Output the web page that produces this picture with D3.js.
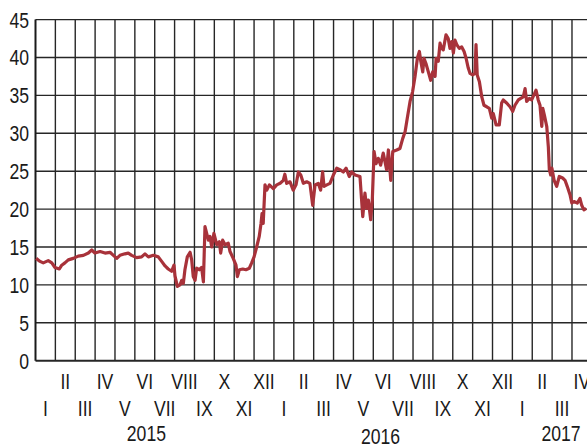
<!DOCTYPE html>
<html>
<head>
<meta charset="utf-8">
<script src="https://cdn.jsdelivr.net/npm/d3@7"></script>
<style>
  html, body { margin: 0; padding: 0; background: #fff; }
  svg { display: block; }
  text { font-family: "Liberation Sans", Arial, sans-serif; font-size: 22px; fill: #1a1a1a; }
</style>
</head>
<body>
<svg id="chart" width="587" height="444"></svg>
<script>
// Time position in months since 1 Jan 2015 (fractional), and the value
const monthPos = [
  0.03,0.23,0.39,0.64,0.82,0.98,1.20,1.32,1.48,1.65,1.90,2.15,2.41,2.66,2.83,2.99,3.25,3.50,3.75,3.92,
  4.09,4.25,4.50,4.67,4.84,5.09,5.34,5.51,5.68,5.93,6.18,6.35,6.52,6.68,6.85,6.97,7.02,7.14,7.27,7.36,
  7.44,7.52,7.64,7.78,7.86,7.94,8.03,8.11,8.24,8.36,8.45,8.53,8.70,8.78,8.87,8.98,9.12,9.25,9.32,9.42,
  9.54,9.70,9.79,9.95,10.09,10.16,10.26,10.43,10.59,10.76,10.88,11.00,11.13,11.26,11.35,11.40,11.46,11.55,11.64,11.77,
  11.97,12.14,12.31,12.47,12.55,12.64,12.81,12.97,13.11,13.23,13.35,13.48,13.65,13.81,13.95,14.07,14.23,14.35,14.45,14.52,
  14.66,14.82,14.99,15.16,15.32,15.49,15.63,15.79,15.91,16.08,16.33,16.47,16.58,16.67,16.75,16.87,16.95,17.04,17.14,17.25,
  17.37,17.50,17.67,17.76,17.88,17.98,18.18,18.34,18.48,18.60,18.71,18.85,18.98,19.10,19.22,19.32,19.39,19.49,19.55,19.65,
  19.77,19.89,19.99,20.11,20.16,20.27,20.36,20.44,20.52,20.66,20.77,20.86,20.95,21.03,21.11,21.20,21.33,21.45,21.57,21.67,
  21.78,21.87,22.00,22.12,22.17,22.23,22.34,22.46,22.57,22.71,22.84,22.96,23.04,23.18,23.34,23.46,23.54,23.71,23.88,24.02,
  24.13,24.30,24.42,24.55,24.64,24.72,24.85,24.97,25.09,25.19,25.30,25.39,25.48,25.53,25.61,25.73,25.81,25.86,25.93,25.99,
  26.10,26.23,26.36,26.53,26.65,26.76,26.90,26.99,27.10,27.27,27.40,27.49,27.60,27.71
];
const values = [
  13.5,13.1,12.9,13.2,12.9,12.3,12.1,12.6,12.9,13.3,13.5,13.8,13.9,14.2,14.6,14.2,14.4,14.2,14.3,13.9,
  13.5,13.9,14.1,14.2,13.9,13.6,13.7,14.1,13.7,13.9,13.7,13.1,12.5,12.1,11.8,12.6,11.2,9.8,10.0,10.6,
  10.2,12.0,13.7,14.3,13.3,11.1,10.6,12.2,12.0,12.3,10.4,17.7,15.9,16.4,15.0,16.8,15.3,15.7,14.2,15.9,
  15.3,15.5,14.4,13.5,12.6,11.1,12.0,12.1,12.0,12.2,12.9,13.7,15.0,16.4,18.1,19.4,18.1,23.2,22.5,23.2,
  22.7,23.2,23.4,23.8,24.6,23.4,23.6,22.5,23.2,24.9,24.5,23.4,23.6,23.4,20.5,23.2,23.4,22.5,24.9,23.0,
  23.2,23.4,24.5,25.4,25.2,24.9,25.4,24.3,24.9,24.5,24.3,19.0,22.1,20.1,21.2,18.6,21.2,27.6,26.0,26.7,
  25.8,27.4,25.2,27.8,23.8,27.6,27.8,28.0,29.3,30.2,32.0,34.2,35.5,37.5,39.9,40.8,39.5,38.1,39.9,39.2,
  38.1,37.0,38.1,37.5,39.9,39.5,41.9,41.2,41.0,43.0,42.5,41.2,42.1,40.6,42.3,41.7,41.2,41.4,40.8,39.9,
  38.6,37.9,37.7,37.9,41.7,37.7,36.8,34.8,33.7,33.5,33.3,32.0,32.6,31.1,31.1,34.0,34.4,34.0,33.5,32.9,
  33.7,34.4,34.6,34.8,35.9,34.2,34.6,34.4,35.1,35.7,34.4,33.7,30.9,33.3,32.4,30.9,28.2,25.2,24.5,25.4,
  23.8,23.0,24.3,24.1,23.8,23.0,21.9,20.8,21.0,20.8,21.4,20.5,19.9,20.1
];
const yTicks = [0,5,10,15,20,25,30,35,40,45];
const monthNames = ["I","II","III","IV","V","VI","VII","VIII","IX","X","XI","XII"];
const monthCount = 28; // Jan 2015 .. Apr 2017
const years = ["2015","2016","2017"];
const yearLabelPos = [5.58, 17.36, 26.45];

const svg = d3.select("#chart");
const plotLeft = 35.5, monthW = 19.87, plotTop = 19.6, plotBottom = 360.7;
const narrow = 0.8; // horizontal squeeze to imitate a condensed face

const x = d3.scaleLinear().domain([0, monthCount]).range([plotLeft, plotLeft + monthCount * monthW]);
const y = d3.scaleLinear().domain([0, 45]).range([plotBottom, plotTop]);

const gridColor = "#262626";

// vertical month gridlines
svg.append("g").selectAll("line").data(d3.range(1, monthCount)).join("line")
  .attr("x1", d => x(d)).attr("x2", d => x(d))
  .attr("y1", y(45)).attr("y2", y(0))
  .attr("stroke", gridColor).attr("stroke-width", 1.4);

// horizontal gridlines
svg.append("g").selectAll("line").data(yTicks).join("line")
  .attr("x1", x(0)).attr("x2", 587)
  .attr("y1", d => y(d)).attr("y2", d => y(d))
  .attr("stroke", gridColor).attr("stroke-width", d => d === 0 ? 2 : 1.4);

// left axis line
svg.append("line").attr("x1", x(0)).attr("x2", x(0)).attr("y1", y(45)).attr("y2", y(0))
  .attr("stroke", "#1a1a1a").attr("stroke-width", 2);

function place(sel, fx, fy) {
  sel.attr("transform", (d, i) => `translate(${fx(d, i)},${fy(d, i)}) scale(${narrow},1)`);
}

// y tick labels
svg.append("g").selectAll("text").data(yTicks).join("text")
  .attr("dy", "0.36em").attr("text-anchor", "end").text(d => d)
  .call(place, () => 29, d => y(d));

// month labels (alternating rows)
const months = d3.range(monthCount);
svg.append("g").selectAll("text").data(months).join("text")
  .attr("text-anchor", "middle")
  .text(d => monthNames[d % 12])
  .call(place, d => x(d + 0.5), d => d % 2 === 1 ? 389 : 416);

// year labels
svg.append("g").selectAll("text").data(years).join("text")
  .attr("text-anchor", "middle")
  .text(d => d)
  .call(place, (d, i) => x(yearLabelPos[i]), (d, i) => i === 1 ? 443.5 : 441);

// data line
const pts = monthPos.map((t, i) => [t, values[i]]);
svg.append("path").datum(pts)
  .attr("fill", "none")
  .attr("stroke", "#a8323a")
  .attr("stroke-width", 3.2)
  .attr("stroke-linejoin", "round")
  .attr("d", d3.line().x(d => x(d[0])).y(d => y(d[1])));
</script>
</body>
</html>
